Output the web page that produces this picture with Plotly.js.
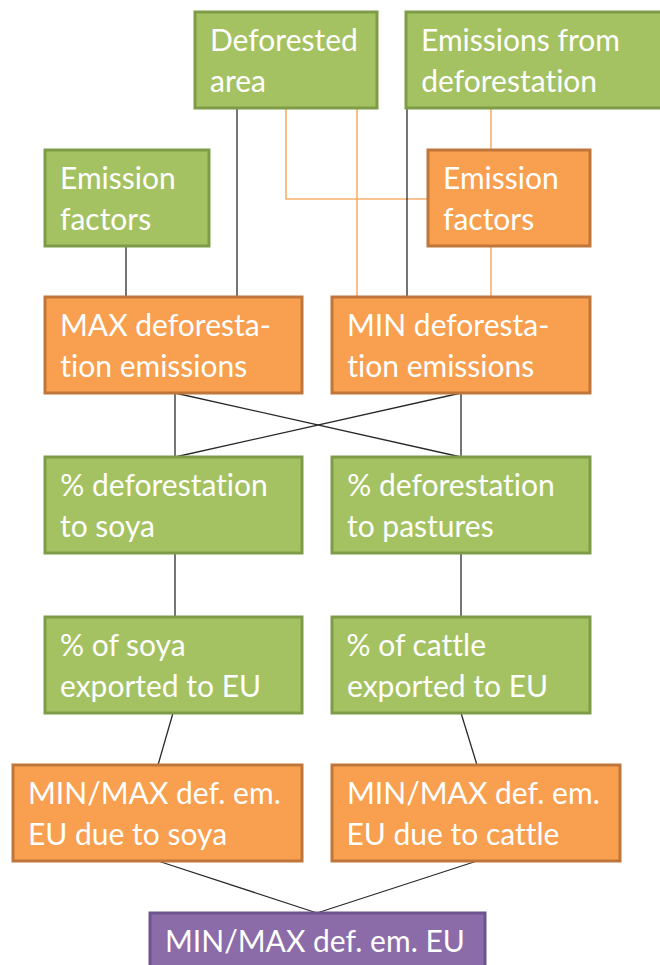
<!DOCTYPE html>
<html>
<head>
<meta charset="utf-8">
<script src="https://cdn.plot.ly/plotly-3.0.1.min.js"></script>
<style>html,body{margin:0;padding:0;background:#fff;}#chart{width:660px;height:965px;}
#chart text{font-variant-ligatures:none !important;font-feature-settings:"liga" 0,"clig" 0 !important;}</style>
</head>
<body>
<div id="chart"></div>
<script>
// Node labels (two text lines per box) and kind of each box
const line1 = ["Deforested","Emissions from","Emission","Emission","MAX deforesta-","MIN deforesta-","% deforestation","% deforestation","% of soya","% of cattle","MIN/MAX def. em.","MIN/MAX def. em.","MIN/MAX def. em. EU"];
const line2 = ["area","deforestation","factors","factors","tion emissions","tion emissions","to soya","to pastures","exported to EU","exported to EU","EU due to soya","EU due to cattle",""];
const kind  = ["input","input","input","calc","calc","calc","input","input","input","input","calc","calc","result"];

// Box geometry (layout, in pixel-like units of the diagram)
const bx0 = [195,406, 45,428, 45,332, 45,332, 45,332, 13,332,150];
const bx1 = [377,670,209,590,302,590,302,590,302,590,302,620,485];
const by0 = [ 12, 12,150,150,297,297,457,457,617,617,765,765,913];
const boxH = 96;

// Connectors: [points], colour kind
const links = [
  {k:"dark",  p:[[126,246],[126,297]]},
  {k:"dark",  p:[[237,108],[237,297]]},
  {k:"light", p:[[286,108],[286,199],[428,199]]},
  {k:"light", p:[[357,108],[357,297]]},
  {k:"dark",  p:[[407,108],[407,297]]},
  {k:"light", p:[[491,108],[491,150]]},
  {k:"light", p:[[491,246],[491,297]]},
  {k:"dark",  p:[[175,393],[175,457]]},
  {k:"dark",  p:[[461,393],[461,457]]},
  {k:"dark",  p:[[175,393],[461,457]]},
  {k:"dark",  p:[[461,393],[175,457]]},
  {k:"dark",  p:[[175,553],[175,617]]},
  {k:"dark",  p:[[461,553],[461,617]]},
  {k:"dark",  p:[[173,713],[158,765]]},
  {k:"dark",  p:[[461,713],[477,765]]},
  {k:"dark",  p:[[158,861],[317,913]]},
  {k:"dark",  p:[[477,861],[317,913]]}
];

const fillC = {input:"#A5C262", calc:"#F8A050", result:"#8B6CA9"};
const edgeC = {input:"#7E9B47", calc:"#C0763B", result:"#6C558E"};
const linkC = {dark:{c:"#2a2a2a",w:1.3}, light:{c:"#F9AE6A",w:1.6}};

const traces = links.map(l => ({
  type:"scatter", mode:"lines",
  x:l.p.map(q=>q[0]), y:l.p.map(q=>q[1]),
  line:{color:linkC[l.k].c, width:linkC[l.k].w},
  hoverinfo:"skip", showlegend:false
}));

const shapes = line1.map((t,i)=>({
  type:"rect", xref:"x", yref:"y",
  x0:bx0[i], x1:bx1[i], y0:by0[i], y1:by0[i]+boxH,
  fillcolor:fillC[kind[i]], line:{color:edgeC[kind[i]], width:3},
  layer:"above"
}));

const annotations = [];
const fnt = {family:"Lato, 'Open Sans', sans-serif", size:30, color:"#ffffff"};
line1.forEach((t,i)=>{
  annotations.push({x:bx0[i]+13, y:by0[i]+27, xref:"x", yref:"y", text:t, showarrow:false, xanchor:"left", yanchor:"middle", font:fnt});
  if(line2[i]) annotations.push({x:bx0[i]+13, y:by0[i]+68, xref:"x", yref:"y", text:line2[i], showarrow:false, xanchor:"left", yanchor:"middle", font:fnt});
});

const layout = {
  width:660, height:965,
  margin:{l:0,r:0,t:0,b:0},
  paper_bgcolor:"#ffffff", plot_bgcolor:"#ffffff",
  xaxis:{range:[0,660], visible:false, fixedrange:true},
  yaxis:{range:[965,0], visible:false, fixedrange:true},
  shapes:shapes, annotations:annotations, showlegend:false
};
Plotly.newPlot("chart", traces, layout, {displayModeBar:false, staticPlot:true});
</script>
</body>
</html>
